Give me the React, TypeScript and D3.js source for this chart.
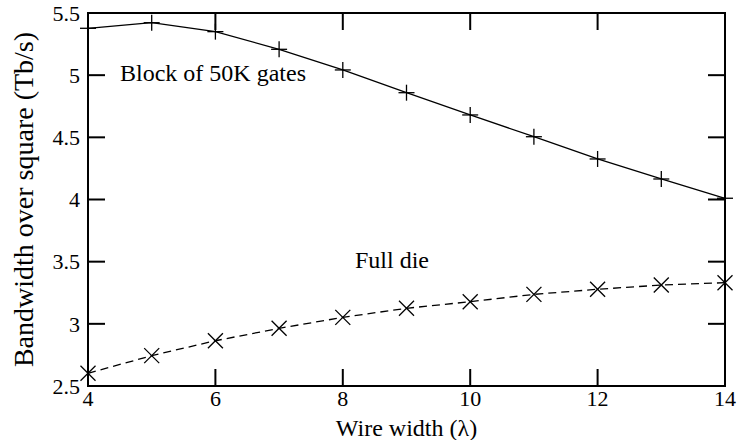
import React from "react";
import * as d3 from "d3";

const wireWidths = [4, 5, 6, 7, 8, 9, 10, 11, 12, 13, 14];
const blockValues = [5.377, 5.422, 5.35, 5.208, 5.042, 4.859, 4.68, 4.505, 4.326, 4.165, 4.01];
const fullDieValues = [2.602, 2.744, 2.864, 2.964, 3.052, 3.125, 3.178, 3.237, 3.278, 3.312, 3.331];
const xTicks = [4, 6, 8, 10, 12, 14];
const yTicks = [2.5, 3, 3.5, 4, 4.5, 5, 5.5];
const xLabel = "Wire width (λ)";
const yLabel = "Bandwidth over square (Tb/s)";
const blockLabel = "Block of 50K gates";
const fullDieLabel = "Full die";

const W = 739;
const H = 440;
const m = { left: 88, right: 725, top: 13, bottom: 386 };
const font = "Liberation Serif";

export default function App() {
  const x = d3.scaleLinear().domain([4, 14]).range([m.left, m.right]);
  const y = d3.scaleLinear().domain([2.5, 5.5]).range([m.bottom, m.top]);
  const line = d3
    .line<number>()
    .x((_, i) => x(wireWidths[i]))
    .y((d) => y(d))
    .curve(d3.curveLinear);
  const tl = 17;
  const ms = 8;
  return (
    <svg width={W} height={H} style={{ position: "absolute", left: 0, top: 0, background: "#fff" }}>
      <g stroke="#000" strokeWidth={2} fill="none">
        {yTicks.map((t) => (
          <g key={"y" + t}>
            <line x1={m.left} x2={m.left + tl} y1={y(t)} y2={y(t)} />
            <line x1={m.right} x2={m.right - tl} y1={y(t)} y2={y(t)} />
          </g>
        ))}
        {xTicks.map((t) => (
          <g key={"x" + t}>
            <line x1={x(t)} x2={x(t)} y1={m.bottom} y2={m.bottom - tl} />
            <line x1={x(t)} x2={x(t)} y1={m.top} y2={m.top + tl} />
          </g>
        ))}
        <rect x={m.left} y={m.top} width={m.right - m.left} height={m.bottom - m.top} />
      </g>
      {yTicks.map((t) => (
        <text key={"yl" + t} x={80} y={y(t)} dy="0.35em" textAnchor="end" fontFamily={font} fontSize={22}>
          {String(t)}
        </text>
      ))}
      {xTicks.map((t) => (
        <text key={"xl" + t} x={x(t)} y={406} textAnchor="middle" fontFamily={font} fontSize={22}>
          {String(t)}
        </text>
      ))}
      <text x={(m.left + m.right) / 2} y={436} textAnchor="middle" fontFamily={font} fontSize={24}>
        {xLabel}
      </text>
      <text
        transform={`translate(33, ${(m.top + m.bottom) / 2}) rotate(-90)`}
        textAnchor="middle"
        fontFamily={font}
        fontSize={28}
      >
        {yLabel}
      </text>
      <text x={120} y={81} fontFamily={font} fontSize={24}>
        {blockLabel}
      </text>
      <text x={355} y={268} fontFamily={font} fontSize={24}>
        {fullDieLabel}
      </text>
      <path d={line(blockValues) || ""} stroke="#000" strokeWidth={1.3} fill="none" />
      <path d={line(fullDieValues) || ""} stroke="#000" strokeWidth={1.3} fill="none" strokeDasharray="8,5" />
      <g stroke="#000" strokeWidth={1.3}>
        {blockValues.map((v, i) => (
          <g key={"p" + i}>
            <line x1={x(wireWidths[i]) - ms} x2={x(wireWidths[i]) + ms} y1={y(v)} y2={y(v)} />
            <line x1={x(wireWidths[i])} x2={x(wireWidths[i])} y1={y(v) - ms} y2={y(v) + ms} />
          </g>
        ))}
        {fullDieValues.map((v, i) => (
          <g key={"c" + i}>
            <line x1={x(wireWidths[i]) - 7.5} x2={x(wireWidths[i]) + 7.5} y1={y(v) - 7.5} y2={y(v) + 7.5} />
            <line x1={x(wireWidths[i]) - 7.5} x2={x(wireWidths[i]) + 7.5} y1={y(v) + 7.5} y2={y(v) - 7.5} />
          </g>
        ))}
      </g>
    </svg>
  );
}
